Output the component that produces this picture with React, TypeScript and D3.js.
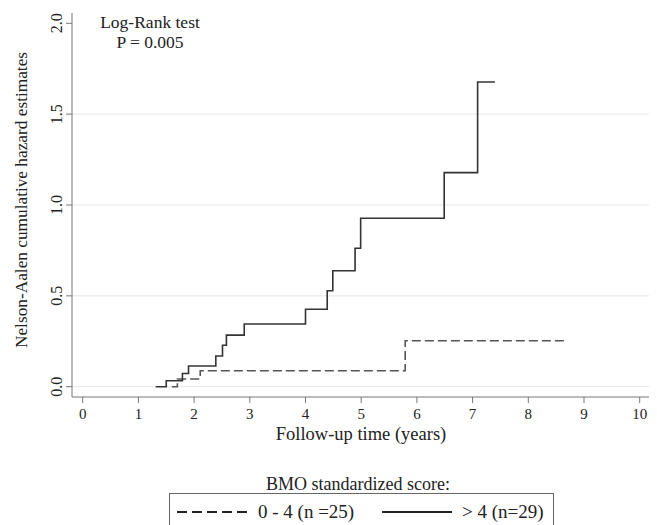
import React, { useEffect, useRef } from "react";
import * as d3 from "d3";

// Nelson-Aalen estimates
const highTimes = [1.31, 1.5, 1.79, 1.9, 2.39, 2.51, 2.58, 2.9, 4.0, 4.39, 4.49, 4.89, 4.99, 6.49, 7.09, 7.4];
const highHazard = [0, 0.033, 0.073, 0.114, 0.169, 0.228, 0.284, 0.345, 0.426, 0.528, 0.638, 0.762, 0.927, 1.178, 1.677, 1.677];
const lowTimes = [1.6, 1.7, 2.11, 5.79, 8.69];
const lowHazard = [0, 0.042, 0.088, 0.253, 0.253];

const xTicks = [0, 1, 2, 3, 4, 5, 6, 7, 8, 9, 10];
const yTicks = [0, 0.5, 1, 1.5, 2];
const gridTicks = [0, 0.5, 1, 1.5];
const legendLabels = ["0 - 4 (n =25)", "> 4 (n=29)"];

const FONT = "'Liberation Serif', 'Times New Roman', serif";

function App() {
  const ref = useRef<SVGSVGElement>(null);

  useEffect(() => {
    const svg = d3.select(ref.current);
    svg.selectAll("*").remove();

    const x = d3.scaleLinear().domain([0, 10]).range([82.7, 639.7]);
    const y = d3.scaleLinear().domain([0, 2]).range([386.7, 23.3]);
    const axisX = 72;
    const axisY = 397;

    // grid
    svg
      .append("g")
      .selectAll("line")
      .data(gridTicks)
      .enter()
      .append("line")
      .attr("x1", axisX)
      .attr("x2", 649)
      .attr("y1", d => y(d))
      .attr("y2", d => y(d))
      .attr("stroke", "#e6e6e6")
      .attr("stroke-width", 1);

    // y axis
    const gy = svg.append("g").attr("transform", "translate(" + axisX + ",0)");
    gy.append("line").attr("x1", 0).attr("x2", 0).attr("y1", 13).attr("y2", axisY).attr("stroke", "#777");
    const yt = gy.selectAll("g.tick").data(yTicks).enter().append("g").attr("class", "tick");
    yt.append("line")
      .attr("x1", -6)
      .attr("x2", 0)
      .attr("y1", d => y(d))
      .attr("y2", d => y(d))
      .attr("stroke", "#777");
    yt.append("text")
      .attr("transform", d => "translate(-10," + y(d) + ") rotate(-90)")
      .attr("text-anchor", "middle")
      .attr("font-family", FONT)
      .attr("font-size", 16)
      .attr("fill", "#222")
      .text(d => d.toFixed(1));

    // x axis
    const gx = svg.append("g").attr("transform", "translate(0," + axisY + ")");
    gx.append("line").attr("x1", axisX).attr("x2", 649).attr("y1", 0).attr("y2", 0).attr("stroke", "#777");
    const xt = gx.selectAll("g.tick").data(xTicks).enter().append("g").attr("class", "tick");
    xt.append("line")
      .attr("x1", d => x(d))
      .attr("x2", d => x(d))
      .attr("y1", 0)
      .attr("y2", 6)
      .attr("stroke", "#777");
    xt.append("text")
      .attr("x", d => x(d))
      .attr("y", 22)
      .attr("text-anchor", "middle")
      .attr("font-family", FONT)
      .attr("font-size", 15)
      .attr("fill", "#222")
      .text(d => d);

    // axis titles
    svg
      .append("text")
      .attr("x", 361)
      .attr("y", 440)
      .attr("text-anchor", "middle")
      .attr("font-family", FONT)
      .attr("font-size", 18.5)
      .attr("fill", "#222")
      .text("Follow-up time (years)");
    svg
      .append("text")
      .attr("transform", "translate(27,200) rotate(-90)")
      .attr("text-anchor", "middle")
      .attr("font-family", FONT)
      .attr("font-size", 17.3)
      .attr("fill", "#222")
      .text("Nelson-Aalen cumulative hazard estimates");

    // curves
    const line = d3
      .line<[number, number]>()
      .x(d => x(d[0]))
      .y(d => y(d[1]))
      .curve(d3.curveStepAfter);

    const lowData = lowTimes.map((t, i) => [t, lowHazard[i]] as [number, number]);
    const highData = highTimes.map((t, i) => [t, highHazard[i]] as [number, number]);

    svg
      .append("path")
      .attr("d", line(lowData))
      .attr("fill", "none")
      .attr("stroke", "#555")
      .attr("stroke-width", 1.6)
      .attr("stroke-dasharray", "9,4");
    svg
      .append("path")
      .attr("d", line(highData))
      .attr("fill", "none")
      .attr("stroke", "#333")
      .attr("stroke-width", 1.6);

    // log-rank annotation
    const note = svg
      .append("text")
      .attr("text-anchor", "middle")
      .attr("font-family", FONT)
      .attr("font-size", 17.5)
      .attr("fill", "#222");
    note.append("tspan").attr("x", 150).attr("y", 28).text("Log-Rank test");
    note.append("tspan").attr("x", 150).attr("y", 48).text("P = 0.005");

    // legend
    svg
      .append("text")
      .attr("x", 358)
      .attr("y", 490)
      .attr("text-anchor", "middle")
      .attr("font-family", FONT)
      .attr("font-size", 18)
      .attr("fill", "#222")
      .text("BMO standardized score:");
    svg
      .append("rect")
      .attr("x", 169.5)
      .attr("y", 493.5)
      .attr("width", 384)
      .attr("height", 40)
      .attr("fill", "none")
      .attr("stroke", "#666");
    svg
      .append("line")
      .attr("x1", 177)
      .attr("x2", 248)
      .attr("y1", 512)
      .attr("y2", 512)
      .attr("stroke", "#222")
      .attr("stroke-width", 2)
      .attr("stroke-dasharray", "10,5");
    svg
      .append("line")
      .attr("x1", 382)
      .attr("x2", 452)
      .attr("y1", 512)
      .attr("y2", 512)
      .attr("stroke", "#222")
      .attr("stroke-width", 2);
    svg
      .selectAll("text.legend")
      .data(legendLabels)
      .enter()
      .append("text")
      .attr("class", "legend")
      .attr("x", (d, i) => (i === 0 ? 258 : 462))
      .attr("y", 518)
      .attr("font-family", FONT)
      .attr("font-size", 19)
      .attr("fill", "#222")
      .text(d => d);
  }, []);

  return (
    <svg
      ref={ref}
      width={657}
      height={525}
      style={{ position: "absolute", left: 0, top: 0, background: "#fff" }}
    />
  );
}

export default App;
